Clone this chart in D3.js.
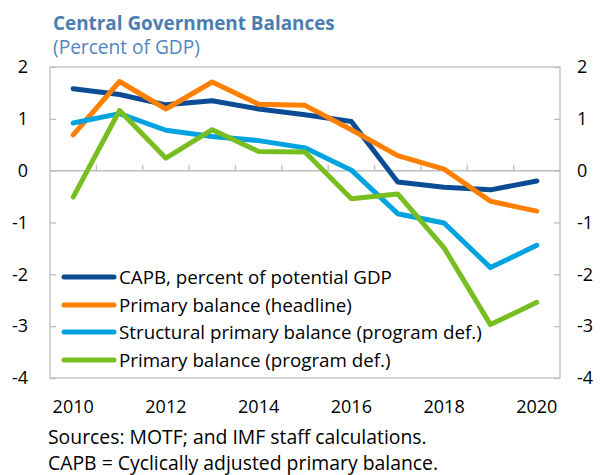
<!DOCTYPE html>
<html><head><meta charset="utf-8">
<script src="https://cdn.jsdelivr.net/npm/d3@7"></script>
<style>html,body{margin:0;padding:0;background:#fff;}svg{display:block;}</style>
</head><body>
<svg id="chart" width="600" height="475"></svg>
<script>
const years = [2010,2011,2012,2013,2014,2015,2016,2017,2018,2019,2020];
const capb        = [1.58,1.47,1.27,1.35,1.19,1.08,0.95,-0.22,-0.32,-0.37,-0.20];
const primaryHead = [0.69,1.72,1.19,1.71,1.28,1.26,0.79,0.29,0.03,-0.59,-0.78];
const structural  = [0.92,1.10,0.78,0.66,0.58,0.44,0.01,-0.83,-1.01,-1.87,-1.44];
const primaryProg = [-0.51,1.16,0.24,0.79,0.37,0.36,-0.54,-0.45,-1.49,-2.97,-2.54];
const seriesNames = ["CAPB, percent of potential GDP","Primary balance (headline)","Structural primary balance (program def.)","Primary balance (program def.)"];
const seriesColors = ["#0B4C94","#FF8000","#00A3E0","#78BE21"];
const yTicks = [-4,-3,-2,-1,0,1,2];
const titleText = "Central Government Balances";
const subtitleText = "(Percent of GDP)";
const notes = ["Sources: MOTF; and IMF staff calculations.","CAPB = Cyclically adjusted primary balance."];

const seriesValues = [capb, primaryHead, structural, primaryProg];
const font = "'Open Sans', 'Noto Sans', sans-serif";
const svg = d3.select("#chart");
const L = 50, R = 560, T = 67, B = 378;
const x = d3.scaleBand().domain(years).range([L, R]).padding(0);
const y = d3.scaleLinear().domain([-4, 2]).range([B, T]);
const cx = d => x(d) + x.bandwidth() / 2;
const gray = "#BFBFBF";

function fit(sel, target) {
  const w = sel.node().getComputedTextLength();
  const fs = parseFloat(sel.attr("font-size"));
  sel.attr("font-size", (fs * target / w).toFixed(2));
}

// Title
fit(svg.append("text").attr("x", 53).attr("y", 30).attr("font-family", font).attr("font-weight", 700)
  .attr("font-size", 20).attr("fill", "#4A7EB0").text(titleText), 282);
fit(svg.append("text").attr("x", 53).attr("y", 54).attr("font-family", font)
  .attr("font-size", 18).attr("fill", "#4F87C2").text(subtitleText), 147);

// frame
svg.append("rect").attr("x", L).attr("y", T).attr("width", R - L).attr("height", B - T)
  .attr("fill", "none").attr("stroke", gray).attr("stroke-width", 1.3);

// left / right axes
const la = svg.append("g").attr("transform", `translate(${L},0)`)
  .call(d3.axisLeft(y).tickValues(yTicks).tickSize(-6).tickPadding(22).tickFormat(d3.format("d")));
const ra = svg.append("g").attr("transform", `translate(${R},0)`)
  .call(d3.axisRight(y).tickValues(yTicks).tickSize(-6).tickPadding(17).tickFormat(d3.format("d")));
[la, ra].forEach(g => {
  g.select(".domain").remove();
  g.selectAll(".tick line").attr("stroke", gray).attr("stroke-width", 1.3);
  g.selectAll(".tick text").attr("font-family", font).attr("font-size", 18).attr("fill", "#000")
    .text(d => d < 0 ? "-" + Math.abs(d) : d);
});

// zero line with category boundary ticks
const y0 = y(0);
svg.append("line").attr("x1", L).attr("x2", R).attr("y1", y0).attr("y2", y0)
  .attr("stroke", gray).attr("stroke-width", 1.5);
svg.append("g").selectAll("line").data(years.slice(1)).join("line")
  .attr("x1", d => x(d)).attr("x2", d => x(d)).attr("y1", y0).attr("y2", y0 - 6)
  .attr("stroke", gray).attr("stroke-width", 1.3);

// bottom labels
const ba = svg.append("g").attr("transform", `translate(0,${B})`)
  .call(d3.axisBottom(x).tickValues(years.filter(d => d % 2 === 0)).tickSize(0).tickPadding(22));
ba.select(".domain").remove();
ba.selectAll(".tick text").attr("font-family", font).attr("font-size", 18).attr("fill", "#000");

// lines
const line = d3.line().x((d, i) => cx(years[i])).y(d => y(d));
svg.append("g").selectAll("path").data(seriesValues).join("path")
  .attr("d", d => line(d)).attr("fill", "none")
  .attr("stroke", (d, i) => seriesColors[i]).attr("stroke-width", 5)
  .attr("stroke-linejoin", "round").attr("stroke-linecap", "round");

// legend
const legY = [277, 305, 332, 360];
const lg = svg.append("g").selectAll("g").data(seriesNames).join("g")
  .attr("transform", (d, i) => `translate(0,${legY[i]})`);
lg.append("line").attr("x1", 64).attr("x2", 114).attr("y1", 0).attr("y2", 0)
  .attr("stroke", (d, i) => seriesColors[i]).attr("stroke-width", 5).attr("stroke-linecap", "round");
const lt = lg.append("text").attr("x", 119).attr("dy", "0.35em").attr("font-family", font)
  .attr("font-size", 18).attr("fill", "#000").text(d => d);
fit(d3.select(lt.nodes()[0]), 273);
lt.attr("font-size", d3.select(lt.nodes()[0]).attr("font-size"));

// notes
const nt = svg.append("g").selectAll("text").data(notes).join("text")
  .attr("x", 48).attr("y", (d, i) => 444 + i * 26).attr("font-family", font)
  .attr("font-size", 17).attr("fill", "#000").text(d => d);
fit(d3.select(nt.nodes()[0]), 379);
nt.attr("font-size", d3.select(nt.nodes()[0]).attr("font-size"));
</script>
</body></html>
